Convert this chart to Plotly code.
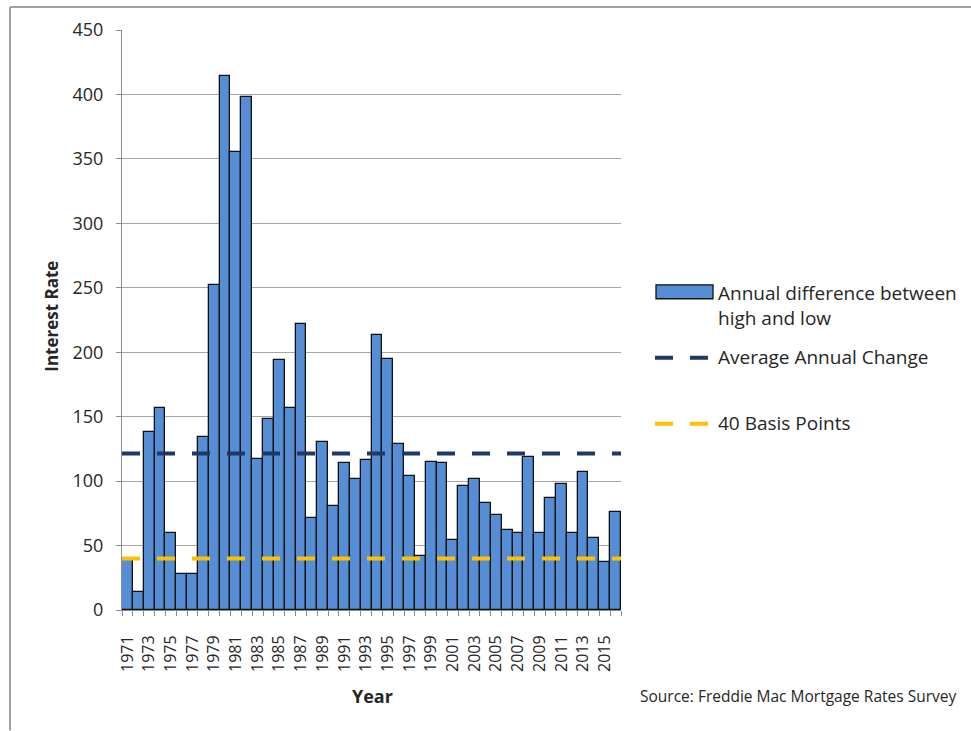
import plotly.graph_objects as go

# Annual high-low spread of 30-year mortgage rates (basis points)
years = list(range(1971, 2017))
annual_diff = [39, 14, 138, 157, 60, 28, 28, 134, 252, 414,
               355, 398, 117, 148, 194, 157, 222, 71, 130, 81,
               114, 102, 116, 213, 195, 129, 104, 42, 115, 114,
               54, 96, 102, 83, 74, 62, 60, 119, 60, 87,
               98, 60, 107, 56, 37, 76]
avg_change = 121.5
basis_40 = 40

tick_years = list(range(1971, 2016, 2))
y_ticks = list(range(0, 451, 50))

BAR_BLUE = "#558ED5"
NAVY = "#1F3864"
GOLD = "#FFC000"
TEXT = "#262626"
FONT = "Open Sans"

W, H = 971, 731
PL, PR, PT, PB = 122, 621, 30, 610.5


def px(xp):
    return (xp - PL) / (PR - PL)


def py(yp):
    return (PB - yp) / (PB - PT)


fig = go.Figure()
fig.add_trace(go.Bar(
    x=years, y=annual_diff, width=1,
    marker=dict(color=BAR_BLUE, line=dict(color="#111111", width=1.3)),
    showlegend=False,
))
x_span = [years[0] - 0.5, years[-1] + 0.5]
fig.add_trace(go.Scatter(
    x=x_span, y=[avg_change] * 2, mode="lines",
    line=dict(color=NAVY, width=4, dash="18px,17px"), showlegend=False,
))
fig.add_trace(go.Scatter(
    x=x_span, y=[basis_40] * 2, mode="lines",
    line=dict(color=GOLD, width=4, dash="18px,17px"), showlegend=False,
))

shapes = [
    # outer frame (top and left edges)
    dict(type="line", xref="paper", yref="paper", x0=px(10), x1=px(W), y0=py(7), y1=py(7),
         line=dict(color="#A0A0A0", width=2)),
    dict(type="line", xref="paper", yref="paper", x0=px(10), x1=px(10), y0=py(7), y1=py(H),
         line=dict(color="#A0A0A0", width=2)),
    # legend swatches
    dict(type="rect", xref="paper", yref="paper", x0=px(656), x1=px(713), y0=py(285), y1=py(299),
         fillcolor=BAR_BLUE, line=dict(color="#111111", width=1.3)),
    dict(type="line", xref="paper", yref="paper", x0=px(655), x1=px(708), y0=py(358), y1=py(358),
         line=dict(color=NAVY, width=4, dash="18px,17px")),
    dict(type="line", xref="paper", yref="paper", x0=px(655), x1=px(708), y0=py(424), y1=py(424),
         line=dict(color=GOLD, width=4, dash="18px,17px")),
]

annotations = [
    dict(text="Annual difference between<br>high and low", x=px(716), y=py(278),
         xanchor="left", yanchor="top", align="left"),
    dict(text="Average Annual Change", x=px(716), y=py(357), xanchor="left", yanchor="middle"),
    dict(text="40 Basis Points", x=px(716), y=py(423), xanchor="left", yanchor="middle"),
    dict(text="<b>Interest Rate</b>", x=px(52), y=py(317), textangle=-90,
         xanchor="center", yanchor="middle", font=dict(size=17)),
    dict(text="<b>Year</b>", x=px(372), y=py(697), xanchor="center", yanchor="middle",
         font=dict(size=18)),
    dict(text="Source: Freddie Mac Mortgage Rates Survey", x=px(638), y=py(697),
         xanchor="left", yanchor="middle", font=dict(size=15.5)),
]
for a in annotations:
    a.update(xref="paper", yref="paper", showarrow=False)
    a.setdefault("font", dict(size=19))
    a["font"].update(family=FONT, color=TEXT)

fig.update_layout(
    width=W, height=H,
    margin=dict(l=PL, r=W - PR, t=PT, b=H - PB, pad=0),
    paper_bgcolor="white", plot_bgcolor="white",
    bargap=0,
    font=dict(family=FONT, color=TEXT, size=17),
    shapes=shapes, annotations=annotations,
    xaxis=dict(
        range=x_span, tickmode="array", tickvals=tick_years,
        ticktext=[str(y) for y in tick_years], tickangle=-90,
        ticks="", showgrid=False, zeroline=False, ticklabelstandoff=18,
        showline=True, linecolor="#8C8C8C", linewidth=1,
        tickfont=dict(size=16, family=FONT, color=TEXT),
        minor=dict(tickmode="array", tickvals=[y - 0.5 for y in years] + [years[-1] + 0.5],
                   ticks="outside", ticklen=5, tickcolor="#8C8C8C", showgrid=False),
    ),
    yaxis=dict(
        range=[0, 450], tickmode="array", tickvals=y_ticks,
        ticks="outside", ticklen=5, tickcolor="#8C8C8C", ticklabelstandoff=9,
        showgrid=True, gridcolor="#A6A6A6", gridwidth=1, zeroline=False,
        showline=True, linecolor="#8C8C8C", linewidth=1,
        tickfont=dict(size=18, family=FONT, color=TEXT),
    ),
)

fig.write_html("out.html")
